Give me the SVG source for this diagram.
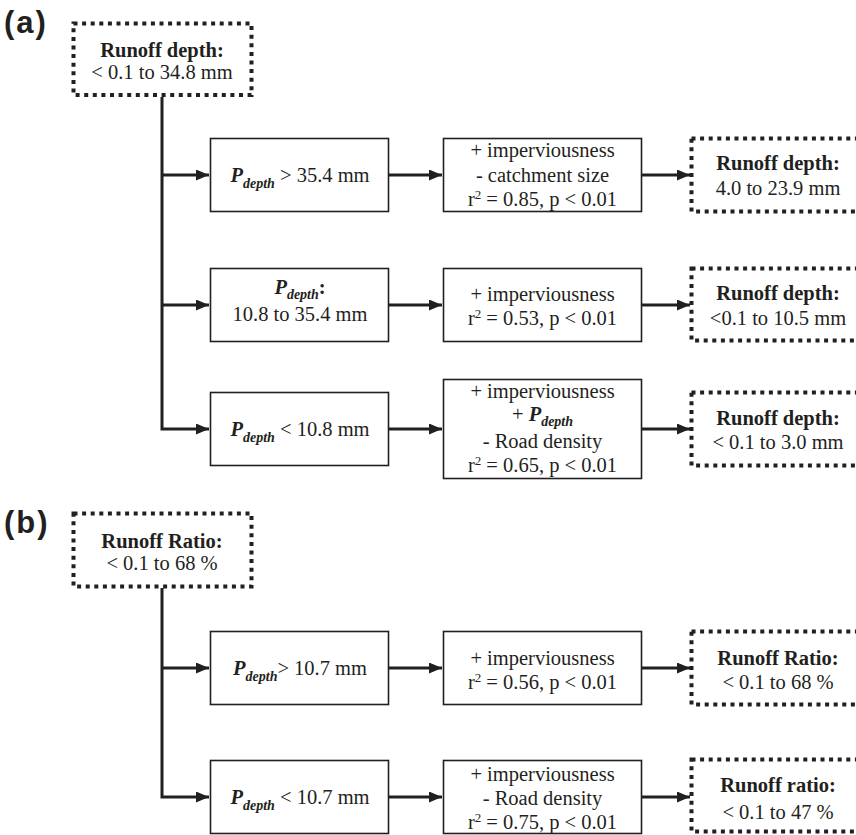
<svg xmlns="http://www.w3.org/2000/svg" width="856" height="835" viewBox="0 0 856 835">
<style>
.bg{fill:#ffffff}
.box{fill:#ffffff;stroke:#231f20;stroke-width:1.6}
.dot{fill:#ffffff;stroke:#231f20;stroke-width:4;stroke-dasharray:4 4.6}
.con{fill:none;stroke:#231f20;stroke-width:3}
.t{font-family:"Liberation Serif","Times New Roman",serif;font-size:20.5px;fill:#231f20;text-anchor:middle}
.b{font-weight:bold}
.bi{font-weight:bold;font-style:italic}
.sub{font-weight:bold;font-style:italic;font-size:14px}
.sup{font-size:13px}
.lab{font-family:"Liberation Sans",Arial,sans-serif;font-weight:bold;font-size:31px;letter-spacing:2px;fill:#231f20}
</style>
<defs>
<marker id="ah" markerUnits="userSpaceOnUse" markerWidth="14" markerHeight="12" refX="13" refY="5.5" orient="auto">
<path d="M0,0 L13,5.5 L0,11 z" fill="#231f20"/>
</marker>
</defs>
<rect class="bg" x="0" y="0" width="856" height="835"/>

<text class="lab" x="4" y="33">(a)</text>
<text class="lab" x="4" y="533">(b)</text>

<g id="connectors">
<path class="con" d="M162,97 V429 H209" marker-end="url(#ah)"/>
<line class="con" x1="162" y1="175" x2="209" y2="175" marker-end="url(#ah)"/>
<line class="con" x1="162" y1="305" x2="209" y2="305" marker-end="url(#ah)"/>
<line class="con" x1="389" y1="175" x2="442" y2="175" marker-end="url(#ah)"/>
<line class="con" x1="389" y1="305" x2="442" y2="305" marker-end="url(#ah)"/>
<line class="con" x1="389" y1="429" x2="442" y2="429" marker-end="url(#ah)"/>
<line class="con" x1="642" y1="175" x2="690" y2="175" marker-end="url(#ah)"/>
<line class="con" x1="642" y1="305" x2="690" y2="305" marker-end="url(#ah)"/>
<line class="con" x1="642" y1="429" x2="690" y2="429" marker-end="url(#ah)"/>
<path class="con" d="M162,588 V797 H209" marker-end="url(#ah)"/>
<line class="con" x1="162" y1="668" x2="209" y2="668" marker-end="url(#ah)"/>
<line class="con" x1="389" y1="668" x2="442" y2="668" marker-end="url(#ah)"/>
<line class="con" x1="389" y1="797" x2="442" y2="797" marker-end="url(#ah)"/>
<line class="con" x1="642" y1="668" x2="690" y2="668" marker-end="url(#ah)"/>
<line class="con" x1="642" y1="797" x2="690" y2="797" marker-end="url(#ah)"/>
</g>

<g id="a-top">
<rect class="dot" x="73.5" y="23.5" width="178" height="71.5"/>
<text class="t b" x="162" y="57">Runoff depth:</text>
<text class="t" x="162" y="79">&lt; 0.1 to 34.8 mm</text>
</g>

<g id="a-p1">
<rect class="box" x="210.5" y="138.5" width="178" height="73"/>
<text class="t" x="300" y="182"><tspan class="bi">P</tspan><tspan class="sub" dy="6">depth</tspan><tspan dy="-6"> &gt; 35.4 mm</tspan></text>
</g>
<g id="a-r1">
<rect class="box" x="443.5" y="138.5" width="198" height="73"/>
<text class="t" x="542.5" y="157">+ imperviousness</text>
<text class="t" x="542.5" y="182">- catchment size</text>
<text class="t" x="542.5" y="206">r<tspan class="sup" dy="-7">2</tspan><tspan dy="7"> = 0.85, p &lt; 0.01</tspan></text>
</g>
<g id="a-o1">
<rect class="dot" x="691.5" y="138.5" width="200" height="73"/>
<text class="t b" x="778" y="170">Runoff depth:</text>
<text class="t" x="778" y="195">4.0 to 23.9 mm</text>
</g>

<g id="a-p2">
<rect class="box" x="210.5" y="268.5" width="178" height="73"/>
<text class="t" x="300" y="294"><tspan class="bi">P</tspan><tspan class="sub" dy="5">depth</tspan><tspan class="b" dy="-5">:</tspan></text>
<text class="t" x="300" y="321">10.8 to 35.4 mm</text>
</g>
<g id="a-r2">
<rect class="box" x="443.5" y="268.5" width="198" height="73"/>
<text class="t" x="542.5" y="301">+ imperviousness</text>
<text class="t" x="542.5" y="325">r<tspan class="sup" dy="-7">2</tspan><tspan dy="7"> = 0.53, p &lt; 0.01</tspan></text>
</g>
<g id="a-o2">
<rect class="dot" x="691.5" y="268.5" width="200" height="72"/>
<text class="t b" x="778" y="300">Runoff depth:</text>
<text class="t" x="778" y="325">&lt;0.1 to 10.5 mm</text>
</g>

<g id="a-p3">
<rect class="box" x="210.5" y="392.5" width="178" height="73"/>
<text class="t" x="300" y="436"><tspan class="bi">P</tspan><tspan class="sub" dy="6">depth</tspan><tspan dy="-6"> &lt; 10.8 mm</tspan></text>
</g>
<g id="a-r3">
<rect class="box" x="443.5" y="379.5" width="198" height="99"/>
<text class="t" x="542.5" y="398">+ imperviousness</text>
<text class="t" x="542.5" y="421">+ <tspan class="bi">P</tspan><tspan class="sub" dy="5">depth</tspan></text>
<text class="t" x="542.5" y="448">- Road density</text>
<text class="t" x="542.5" y="472">r<tspan class="sup" dy="-7">2</tspan><tspan dy="7"> = 0.65, p &lt; 0.01</tspan></text>
</g>
<g id="a-o3">
<rect class="dot" x="691.5" y="392.5" width="200" height="73"/>
<text class="t b" x="778" y="425">Runoff depth:</text>
<text class="t" x="778" y="449">&lt; 0.1 to 3.0 mm</text>
</g>

<g id="b-top">
<rect class="dot" x="73.5" y="513.5" width="178" height="73"/>
<text class="t b" x="162" y="548">Runoff Ratio:</text>
<text class="t" x="162" y="570">&lt; 0.1 to 68 %</text>
</g>

<g id="b-p1">
<rect class="box" x="210.5" y="631.5" width="178" height="73"/>
<text class="t" x="300" y="675"><tspan class="bi">P</tspan><tspan class="sub" dy="6">depth</tspan><tspan dy="-6">&gt; 10.7 mm</tspan></text>
</g>
<g id="b-r1">
<rect class="box" x="443.5" y="631.5" width="198" height="73"/>
<text class="t" x="542.5" y="665">+ imperviousness</text>
<text class="t" x="542.5" y="689">r<tspan class="sup" dy="-7">2</tspan><tspan dy="7"> = 0.56, p &lt; 0.01</tspan></text>
</g>
<g id="b-o1">
<rect class="dot" x="691.5" y="631.5" width="200" height="73"/>
<text class="t b" x="778" y="665">Runoff Ratio:</text>
<text class="t" x="778" y="689">&lt; 0.1 to 68 %</text>
</g>

<g id="b-p2">
<rect class="box" x="210.5" y="760.5" width="178" height="73"/>
<text class="t" x="300" y="804"><tspan class="bi">P</tspan><tspan class="sub" dy="6">depth</tspan><tspan dy="-6"> &lt; 10.7 mm</tspan></text>
</g>
<g id="b-r2">
<rect class="box" x="443.5" y="760.5" width="198" height="73"/>
<text class="t" x="542.5" y="781">+ imperviousness</text>
<text class="t" x="542.5" y="805">- Road density</text>
<text class="t" x="542.5" y="829">r<tspan class="sup" dy="-7">2</tspan><tspan dy="7"> = 0.75, p &lt; 0.01</tspan></text>
</g>
<g id="b-o2">
<rect class="dot" x="691.5" y="759.5" width="200" height="72"/>
<text class="t b" x="778" y="792">Runoff ratio:</text>
<text class="t" x="778" y="819">&lt; 0.1 to 47 %</text>
</g>
</svg>
